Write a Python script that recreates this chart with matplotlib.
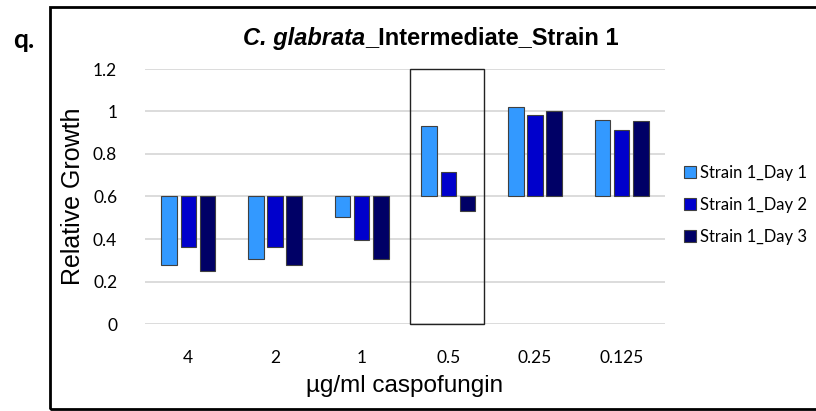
import matplotlib
matplotlib.use("Agg")
import matplotlib.pyplot as plt
import numpy as np
from matplotlib.patches import Rectangle, Patch

# dane
concentrations = ["4", "2", "1", "0.5", "0.25", "0.125"]
day1 = [0.276, 0.305, 0.504, 0.93, 1.019, 0.958]
day2 = [0.362, 0.364, 0.394, 0.714, 0.982, 0.911]
day3 = [0.25, 0.279, 0.305, 0.532, 1.0, 0.955]
series_names = ["Strain 1_Day 1", "Strain 1_Day 2", "Strain 1_Day 3"]
colors = ["#3399FF", "#0000CC", "#000066"]
baseline = 0.6

fig = plt.figure(figsize=(8.16, 4.11), dpi=100)
ax = fig.add_axes([145 / 816, 87 / 411, 520 / 816, 255 / 411])

x = np.arange(len(concentrations))
width = 0.18
offsets = [-0.22, 0.0, 0.22]
for vals, off, c in zip([day1, day2, day3], offsets, colors):
    vals = np.array(vals)
    ax.bar(x + off, vals - baseline, width, bottom=baseline, color=c,
           edgecolor="#404040", linewidth=0.8, zorder=3)

ax.set_xlim(-0.5, 5.5)
ax.set_ylim(0, 1.2)
ax.set_yticks([0, 0.2, 0.4, 0.6, 0.8, 1.0, 1.2])
ax.set_yticklabels(["0", "0.2", "0.4", "0.6", "0.8", "1", "1.2"])
ax.set_xticks(x)
ax.set_xticklabels(concentrations)
ax.grid(axis="y", color="#D9D9D9", linewidth=1.3, zorder=0)
ax.tick_params(length=0, labelsize=12.5)
ax.tick_params(axis="x", pad=19)
ax.tick_params(axis="y", pad=20)
for lab in ax.get_xticklabels() + ax.get_yticklabels():
    lab.set_fontfamily("Lato")
for s in ax.spines.values():
    s.set_visible(False)

# ramka wokol 0.5
ax.add_patch(Rectangle((2.556, 0), 0.854, 1.2, fill=False, edgecolor="#222222",
                       linewidth=1.0, clip_on=False, zorder=4))

ax.set_xlabel("µg/ml caspofungin", fontsize=17.5, fontfamily="Liberation Sans", labelpad=6)
ax.set_ylabel("Relative Growth", fontsize=18, fontfamily="Liberation Sans", labelpad=6)

title_y = 1 - 38 / 411
fig.text(0.447, title_y, "C. glabrata", fontsize=17, fontweight="bold", fontstyle="italic",
         fontfamily="Liberation Sans", ha="right", va="center")
fig.text(0.447, title_y, "_Intermediate_Strain 1", fontsize=17, fontweight="bold",
         fontfamily="Liberation Sans", ha="left", va="center")

fig.text(24 / 816, 1 - 40 / 411, "q.", fontsize=19, fontweight="bold",
         fontfamily="Lato", ha="center", va="center")

handles = [Patch(facecolor=c, edgecolor="#404040", linewidth=0.8) for c in colors]
fig.legend(handles, series_names, loc="center left",
           bbox_to_anchor=(677 / 816, 1 - 205 / 411), frameon=False,
           prop={"family": "Lato", "size": 12}, handlelength=0.75, handleheight=0.75,
           handletextpad=0.25, labelspacing=0.95, borderaxespad=0)

# ramka wykresu
fig.add_artist(Rectangle((50 / 816, 2 / 411), 770 / 816, 402 / 411, fill=False,
                         edgecolor="black", linewidth=2.0, transform=fig.transFigure))

fig.savefig("out.png", dpi=100)
